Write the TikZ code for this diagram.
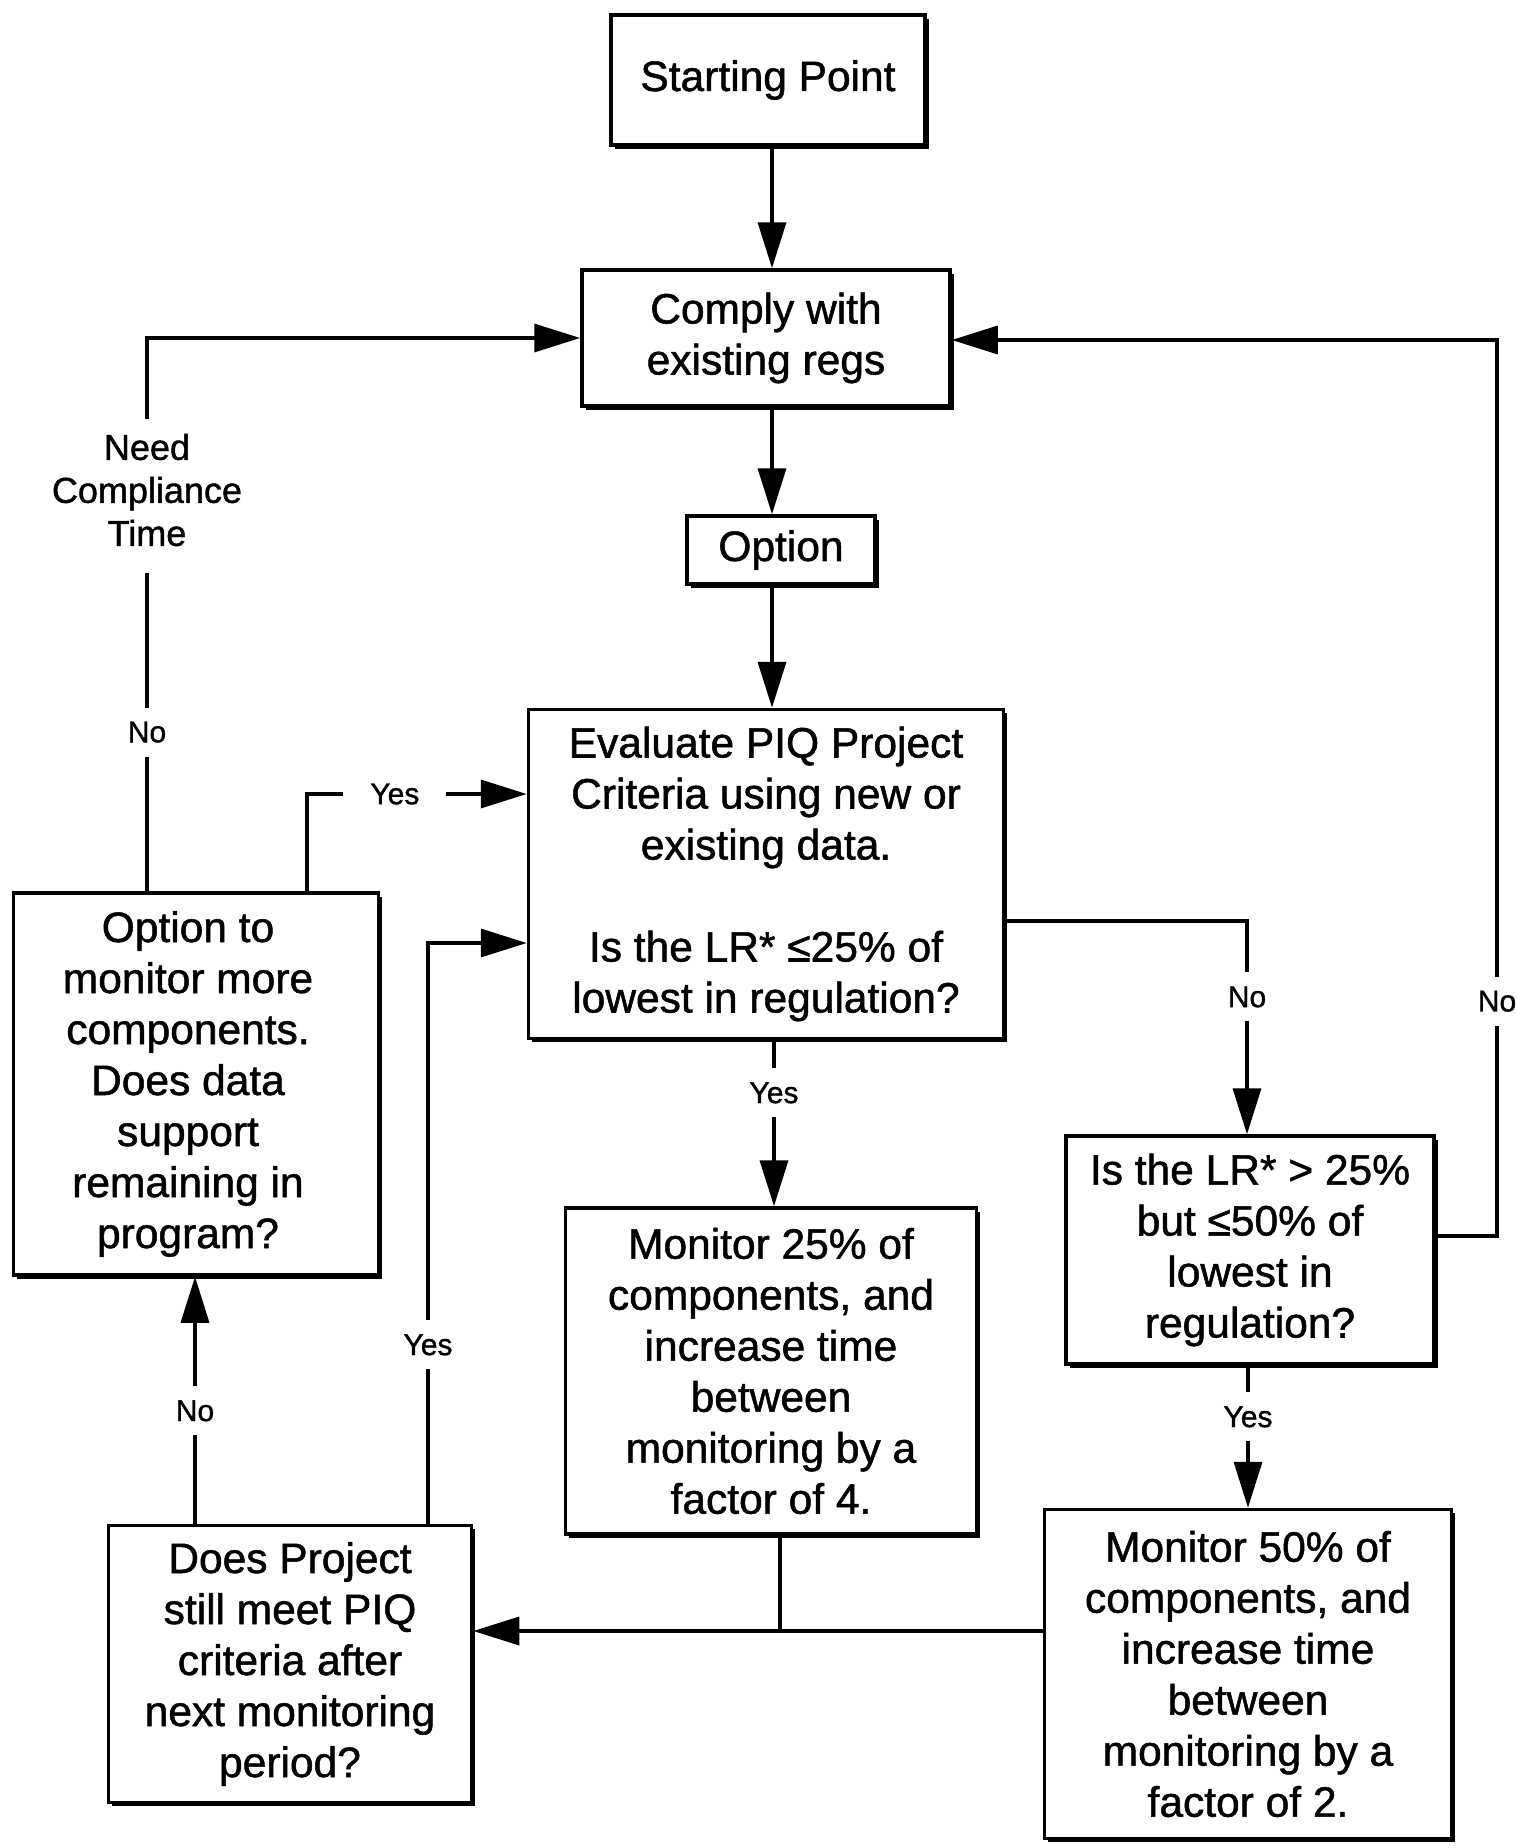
\documentclass[tikz,border=0pt]{standalone}
\usepackage{fontspec}
\setmainfont{Liberation Sans}[BoldFont={Liberation Sans},BoldFeatures={FakeBold=1.2}]
\usetikzlibrary{arrows.meta,shadows}
\newcommand{\ls}{\hspace*{-16pt}}
\tikzset{
  box/.style={draw, line width=3.5pt, fill=white, align=center, inner sep=0pt,
    font=\fontsize{42.5}{51}\selectfont\bfseries,
    drop shadow={opacity=1, fill=black, shadow xshift=3.5pt, shadow yshift=-3.5pt}},
  conn/.style={line width=3.5pt},
  arr/.style={conn, -{Triangle[length=46pt,width=28pt]}},
  lbl/.style={fill=white, font=\fontsize{30}{36}\selectfont\bfseries, inner xsep=2pt, inner ysep=14pt, align=center},
  lblh/.style={fill=white, font=\fontsize{30}{36}\selectfont\bfseries, inner xsep=27pt, inner ysep=4pt},
  bigl/.style={fill=white, font=\fontsize{36}{43}\selectfont\bfseries, inner xsep=2pt, inner ysep=15pt, text depth=12pt, align=center},
}
\begin{document}
\begin{tikzpicture}[x=1pt,y=-1pt]
\useasboundingbox (0,0) rectangle (1517,1848);
% boxes
\node[box, minimum width=314pt, minimum height=130pt] (start) at (768,80) {Starting Point};
\node[box, minimum width=368pt, minimum height=136pt] (comply) at (766,338) {Comply with\\existing regs};
\node[box, minimum width=188pt, minimum height=68pt] (option) at (781,550) {Option};
\node[box, minimum width=475pt, minimum height=329pt] (eval) at (766,874)
  {Evaluate PIQ Project\\Criteria using new or\\existing data.\\[51pt]Is the LR* ≤25\% of\\lowest in regulation?};
\node[box, minimum width=365pt, minimum height=382pt] (opt2) at (196,1084)
  {\ls Option to\\\ls monitor more\\\ls components.\\\ls Does data\\\ls support\\\ls remaining in\\\ls program?};
\node[box, minimum width=411pt, minimum height=326pt] (m25) at (771,1371)
  {Monitor 25\% of\\components, and\\increase time\\between\\monitoring by a\\factor of 4.};
\node[box, minimum width=368pt, minimum height=228pt] (islr) at (1250,1250)
  {Is the LR* > 25\%\\but ≤50\% of\\lowest in\\regulation?};
\node[box, minimum width=407pt, minimum height=329pt] (m50) at (1248,1674)
  {Monitor 50\% of\\components, and\\increase time\\between\\monitoring by a\\factor of 2.};
\node[box, minimum width=363pt, minimum height=277pt] (does) at (290,1664)
  {Does Project\\still meet PIQ\\criteria after\\next monitoring\\period?};
% helper coordinates
\coordinate (xmain) at (772,0);
\coordinate (xm2) at (774,0);
\coordinate (xNo) at (1247,0);
\coordinate (x50) at (1248,0);
\coordinate (xM25) at (780,0);
\coordinate (xL1) at (147,0);
\coordinate (xL2) at (307,0);
\coordinate (xL3) at (428,0);
\coordinate (xL4) at (195,0);
\coordinate (yNo) at (0,921);
\coordinate (yY1) at (0,794);
\coordinate (yY2) at (0,943);
\coordinate (yR) at (0,1236);
\coordinate (yB) at (0,1631);
\coordinate (rr1) at (1497,1236);
\coordinate (rr2) at (1497,340);
% connectors
\draw[arr] (start.south -| xmain) -- (comply.north -| xmain);
\draw[arr] (comply.south -| xmain) -- (option.north -| xmain);
\draw[arr] (option.south -| xmain) -- (eval.north -| xmain);
\draw[arr] (eval.south -| xm2) -- node[lbl,pos=.317]{Yes} (m25.north -| xm2);
\draw[arr] (eval.east |- yNo) -| node[lbl,pos=.678]{No} (islr.north -| xNo);
\draw[arr] (islr.east |- yR) -- (rr1) -- node[lbl,pos=.262]{No} (rr2) -- (comply.east |- rr2);
\draw[arr] (islr.south -| x50) -- node[lbl,pos=.36]{Yes} (m50.north -| x50);
\draw[arr] (m50.west |- yB) -- (does.east |- yB);
\draw[conn] (m25.south -| xM25) -- (xM25 |- yB);
\draw[arr] (does.north -| xL4) -- node[lbl,pos=.457]{No} (opt2.south -| xL4);
\draw[arr] (does.north -| xL3) |- node[lbl,pos=.154]{Yes} (eval.west |- yY2);
\draw[arr] (opt2.north -| xL2) |- node[lblh,pos=.70]{Yes} (eval.west |- yY1);
\draw[arr] (opt2.north -| xL1) |- node[lbl,pos=.1438]{No}
  node[bigl,pos=.4286,anchor=north]{Need\\Compliance\\Time} (comply.west);
\end{tikzpicture}
\end{document}
